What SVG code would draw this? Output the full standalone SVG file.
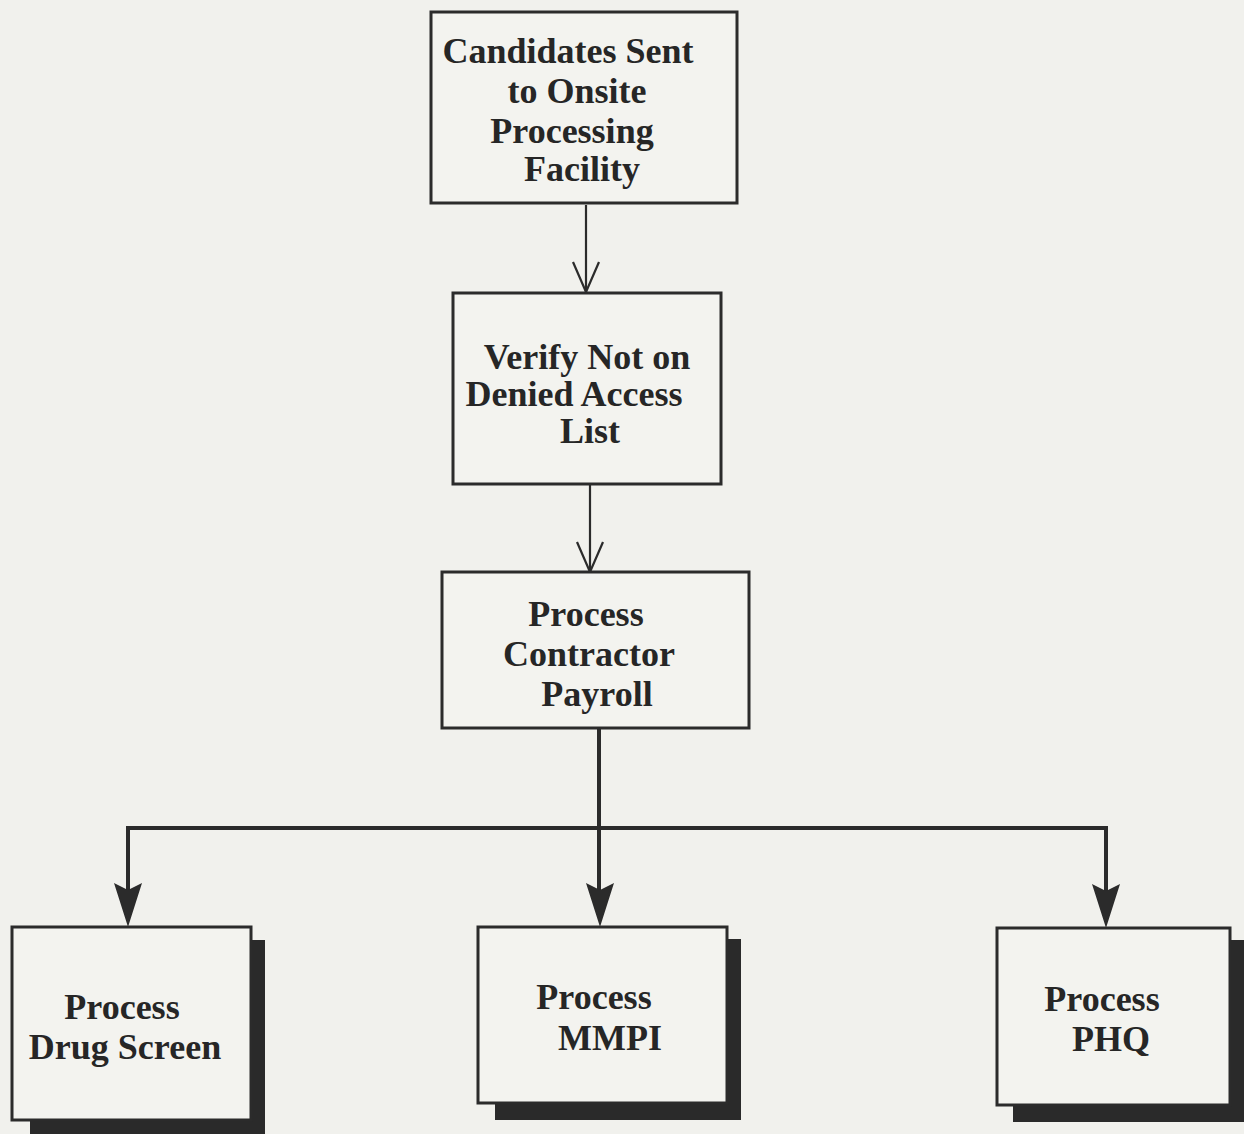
<svg xmlns="http://www.w3.org/2000/svg" width="1244" height="1134" viewBox="0 0 1244 1134">
<style>
.box{fill:#f3f3ef;stroke:#2b2b2b;stroke-width:3}
.sh{fill:#2a2a2a}
.t{font-family:"Liberation Serif","DejaVu Serif",serif;font-size:36px;font-weight:bold;fill:#262626;text-anchor:middle}
.ln{fill:none;stroke:#2b2b2b}
</style>
<rect width="1244" height="1134" fill="#f1f1ed"/>
<g id="connectors">
<path class="ln" stroke-width="2.2" d="M586,205 V292"/>
<path d="M573,262 L586,292 L599,262" class="ln" stroke-width="2.2"/>
<path class="ln" stroke-width="2.2" d="M590,484 V572"/>
<path d="M577,542 L590,572 L603,542" class="ln" stroke-width="2.2"/>
<path class="ln" stroke-width="4" d="M599,728 V900"/>
<path class="ln" stroke-width="4" d="M128,900 V828 H1106 V900"/>
<polygon fill="#2b2b2b" points="114,883 128,890 142,883 128,927"/>
<polygon fill="#2b2b2b" points="586,883 600,890 614,883 600,927"/>
<polygon fill="#2b2b2b" points="1092,884 1106,891 1120,884 1106,928"/>
</g>
<g id="n1">
<rect class="box" x="431" y="12" width="306" height="191"/>
<text class="t" x="568" y="63">Candidates Sent</text>
<text class="t" x="577" y="103">to Onsite</text>
<text class="t" x="572" y="143">Processing</text>
<text class="t" x="582" y="181">Facility</text>
</g>
<g id="n2">
<rect class="box" x="453" y="293" width="268" height="191"/>
<text class="t" x="587" y="369">Verify Not on</text>
<text class="t" x="574" y="406">Denied Access</text>
<text class="t" x="590" y="443">List</text>
</g>
<g id="n3">
<rect class="box" x="442" y="572" width="307" height="156"/>
<text class="t" x="586" y="626">Process</text>
<text class="t" x="589" y="666">Contractor</text>
<text class="t" x="597" y="706">Payroll</text>
</g>
<g id="n4">
<path class="sh" d="M251,940 H265 V1134 H30 V1120 H251 Z"/>
<rect class="box" x="12" y="927" width="239" height="193"/>
<text class="t" x="122" y="1019">Process</text>
<text class="t" x="125" y="1059">Drug Screen</text>
</g>
<g id="n5">
<path class="sh" d="M727,939 H741 V1120 H495 V1103 H727 Z"/>
<rect class="box" x="478" y="927" width="249" height="176"/>
<text class="t" x="594" y="1009">Process</text>
<text class="t" x="610" y="1050">MMPI</text>
</g>
<g id="n6">
<path class="sh" d="M1230,940 H1244 V1122 H1013 V1105 H1230 Z"/>
<rect class="box" x="997" y="928" width="233" height="177"/>
<text class="t" x="1102" y="1011">Process</text>
<text class="t" x="1111" y="1051">PHQ</text>
</g>
</svg>
